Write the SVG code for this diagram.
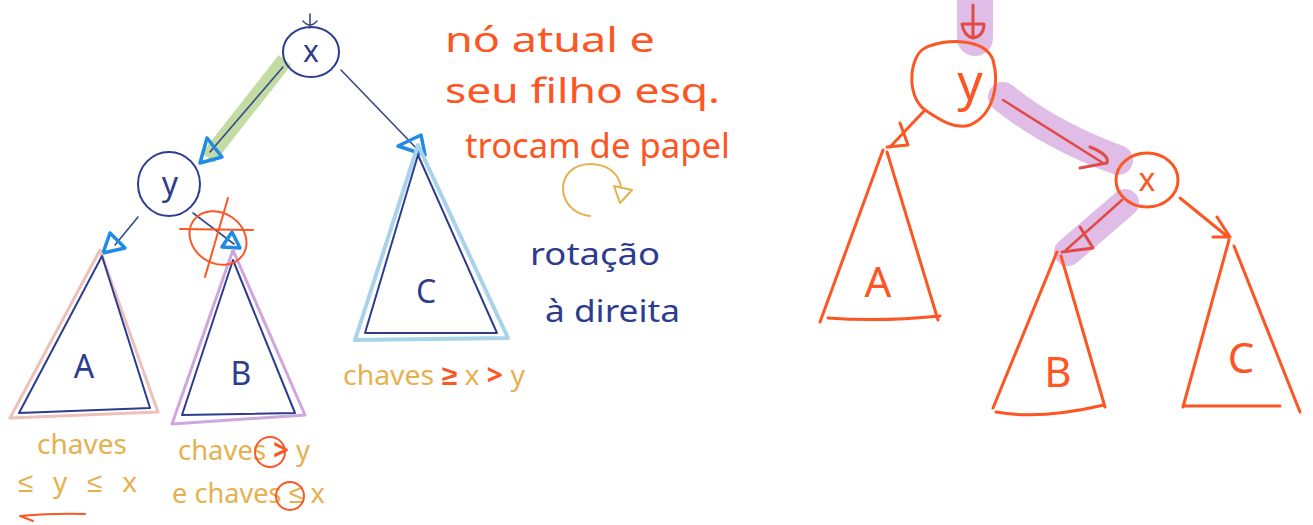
<svg xmlns="http://www.w3.org/2000/svg" width="1313" height="525" viewBox="0 0 1313 525">
<style>
.navy{fill:none;stroke:#2d3c8e;stroke-width:2;stroke-linecap:round;stroke-linejoin:round}
.edgeL{fill:none;stroke:#3a4788;stroke-width:1.6;stroke-linecap:round}
.blueHead{fill:none;stroke:#1f8be6;stroke-width:3.5;stroke-linejoin:round}
.red{fill:none;stroke:#fb5623;stroke-width:3;stroke-linecap:round;stroke-linejoin:round}
.redthin{fill:none;stroke:#fb5623;stroke-width:2;stroke-linecap:round}
.hl{fill:none;stroke:#dfbde6;stroke-linecap:round}
.lblN{font-family:"Noto Sans",sans-serif;fill:#2d3c8e;text-anchor:middle}
.lblR{font-family:"Noto Sans",sans-serif;fill:#fb5623;text-anchor:middle}
.note{font-family:"Noto Sans",sans-serif;fill:#fb5623;font-size:34px}
.key{font-family:"Noto Sans",sans-serif;fill:#e6b14f;font-size:28px}
.rot{font-family:"Noto Sans",sans-serif;fill:#2d3c8e;font-size:30px}
</style>

<!-- highlights -->
<g id="highlights">
<line x1="285" y1="60" x2="208" y2="158" stroke="#c2dca4" stroke-width="16"/>
<line x1="975" y1="-15" x2="975" y2="38" class="hl" stroke-width="36"/>
<path d="M1003 97 Q1050 135 1118 160" class="hl" stroke-width="30"/>
<line x1="1125" y1="203" x2="1068" y2="252" class="hl" stroke-width="28" stroke-linecap="butt"/>
</g>

<!-- connectors -->
<g id="connectors">
<!-- left tree -->
<path d="M310 14 V28 M303 21 Q310 29 317 21" class="edgeL"/>
<line x1="283" y1="67" x2="210" y2="152" class="edgeL"/>
<polygon points="207,138 222,157 200,163" class="blueHead"/>
<line x1="341" y1="70" x2="420" y2="152" class="edgeL"/>
<polygon points="398,146 421,135 425,155" class="blueHead"/>
<line x1="138" y1="217" x2="115" y2="245" class="edgeL"/>
<polygon points="110,233 125,248 103,253" class="blueHead"/>
<line x1="193" y1="213" x2="234" y2="244" class="edgeL"/>
<polygon points="232,232 240,248 222,247" class="blueHead"/>
<!-- right tree -->
<path d="M973 5 V38 M962 24 Q964 36 973 38 Q984 36 984 24 Z" fill="none" stroke="#e24a45" stroke-width="3" stroke-linecap="round" stroke-linejoin="round"/>
<line x1="925" y1="110" x2="890" y2="147" class="red" stroke-width="2.5"/>
<path d="M900 123 L908 145 M887 147 L908 145" class="red" stroke-width="2.5"/>
<line x1="1003" y1="100" x2="1103" y2="163" stroke="#e24a45" stroke-width="2.5" stroke-linecap="round"/>
<path d="M1090 147 Q1110 155 1107 163 L1080 168" fill="none" stroke="#e24a45" stroke-width="3" stroke-linecap="round"/>
<line x1="1122" y1="200" x2="1066" y2="250" stroke="#e24a45" stroke-width="2.5" stroke-linecap="round"/>
<path d="M1080 227 L1093 248 L1062 252" fill="none" stroke="#e24a45" stroke-width="3" stroke-linecap="round" stroke-linejoin="round"/>
<line x1="1180" y1="198" x2="1228" y2="237" class="red" stroke-width="2.5"/>
<path d="M1217 217 L1230 237 L1213 237" class="red" stroke-width="2.5"/>
</g>

<!-- left tree nodes -->
<g id="left-x">
<ellipse cx="311" cy="52" rx="28" ry="25" class="navy"/>
<text x="311" y="62" class="lblN" font-size="30">x</text>
</g>
<g id="left-y">
<ellipse cx="169" cy="184" rx="31" ry="32" class="navy"/>
<text x="170" y="195" class="lblN" font-size="32">y</text>
</g>
<g id="left-A">
<polygon points="100,250 10,418 158,412" fill="none" stroke="#ecc1bb" stroke-width="3" stroke-linejoin="round"/>
<polygon points="102,256 19,413 150,408" class="navy"/>
<text x="84" y="378" class="lblN" font-size="32">A</text>
</g>
<g id="left-B">
<polygon points="233,250 172,424 305,415" fill="none" stroke="#cfa6dd" stroke-width="3" stroke-linejoin="round"/>
<polygon points="233,260 182,415 295,413" class="navy"/>
<text x="241" y="385" class="lblN" font-size="32">B</text>
</g>
<g id="left-C">
<polygon points="418,145 355,340 508,338" fill="none" stroke="#a9d3ea" stroke-width="4" stroke-linejoin="round"/>
<polygon points="418,155 365,333 497,333" class="navy"/>
<text x="426" y="303" class="lblN" font-size="32">C</text>
</g>

<!-- red cross mark on y->B -->
<g id="cross-mark">
<ellipse cx="218" cy="238" rx="30" ry="25" transform="rotate(35 218 238)" class="redthin"/>
<line x1="180" y1="229" x2="253" y2="230" class="redthin"/>
<line x1="228" y1="198" x2="205" y2="277" class="redthin"/>
</g>

<!-- key labels -->
<g id="labels-left">
<text x="37" y="454" class="key" textLength="90" lengthAdjust="spacingAndGlyphs">chaves</text>
<text x="18" y="492" class="key" textLength="119" lengthAdjust="spacing">≤ y ≤ x</text>
<path d="M20 516 Q55 513 85 514 M20 516 L33 521" class="redthin"/>
<text x="178" y="460" class="key" textLength="132" lengthAdjust="spacingAndGlyphs">chaves <tspan fill="#fb5623" font-weight="bold">&gt;</tspan> y</text>
<circle cx="270" cy="452" r="15" class="redthin"/>
<text x="172" y="503" class="key" textLength="153" lengthAdjust="spacingAndGlyphs">e chaves ≤ x</text>
<circle cx="290" cy="496" r="14" class="redthin"/>
<text x="343" y="385" class="key" textLength="182" lengthAdjust="spacingAndGlyphs">chaves <tspan fill="#fb5623" font-weight="bold">≥</tspan> x <tspan fill="#fb5623" font-weight="bold">&gt;</tspan> y</text>
</g>

<!-- notes -->
<g id="notes">
<text x="445" y="52" class="note" textLength="210" lengthAdjust="spacingAndGlyphs">nó atual e</text>
<text x="445" y="103" class="note" textLength="275" lengthAdjust="spacingAndGlyphs">seu filho esq.</text>
<text x="465" y="158" class="note" textLength="265" lengthAdjust="spacingAndGlyphs">trocam de papel</text>
<path d="M590 216 C555 212 553 165 590 164 C610 164 620 176 621 188" fill="none" stroke="#e6b14f" stroke-width="2" stroke-linecap="round"/>
<polygon points="614,186 632,190 620,203" fill="none" stroke="#e6b14f" stroke-width="2" stroke-linejoin="round"/>
<text x="530" y="265" class="rot" textLength="130" lengthAdjust="spacingAndGlyphs">rotação</text>
<text x="545" y="322" class="rot" textLength="135" lengthAdjust="spacingAndGlyphs">à direita</text>
</g>

<!-- right tree nodes -->
<g id="right-y">
<path d="M925 110 C905 95 910 55 925 48 C945 38 985 38 993 60 C1000 85 993 115 970 125 C955 130 940 120 925 110 Z" class="red"/>
<text x="970" y="100" class="lblR" font-size="50">y</text>
</g>
<g id="right-x">
<ellipse cx="1147" cy="180" rx="31" ry="27" class="red"/>
<text x="1147" y="191" class="lblR" font-size="32">x</text>
</g>
<g id="right-A">
<path d="M883 150 L820 322 M887 152 L938 320 M828 318 Q880 322 940 316" class="red"/>
<text x="878" y="297" class="lblR" font-size="42">A</text>
</g>
<g id="right-B">
<path d="M1057 252 L993 408 M1061 256 L1105 407 M996 412 Q1040 420 1104 405" class="red"/>
<text x="1058" y="387" class="lblR" font-size="42">B</text>
</g>
<g id="right-C">
<path d="M1229 240 L1183 407 M1234 246 L1300 412 M1183 406 L1280 406" class="red" stroke-width="2.5"/>
<text x="1241" y="373" class="lblR" font-size="42">C</text>
</g>
</svg>
